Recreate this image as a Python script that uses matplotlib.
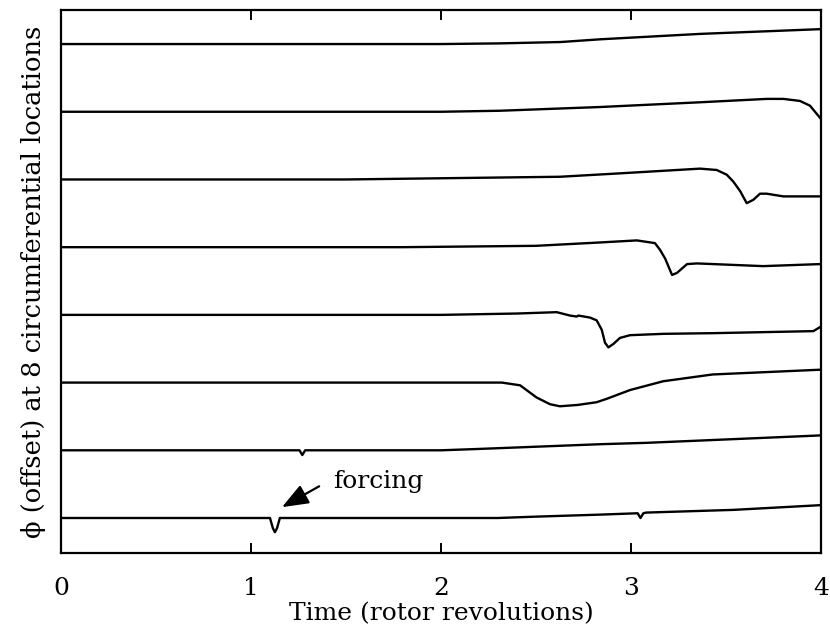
import matplotlib
matplotlib.use("Agg")
import matplotlib.pyplot as plt

plt.rcParams['font.family'] = ['DejaVu Serif']

# Each trace: time points (rotor revolutions) and deviation from its own baseline (offset units)
t1 = [0.0, 1.10, 1.115, 1.126, 1.137, 1.152, 2.3, 2.5, 2.84, 3.035, 3.05, 3.065, 3.08, 3.54, 4.0]
d1 = [0.0, 0.0, -0.15, -0.21, -0.15, 0.0, 0.0, 0.02, 0.05, 0.07, 0.0, 0.07, 0.08, 0.12, 0.19]

t2 = [0.0, 1.255, 1.27, 1.285, 2.0, 2.2, 2.84, 3.08, 3.5, 4.0]
d2 = [0.0, 0.0, -0.07, 0.0, 0.0, 0.02, 0.09, 0.11, 0.16, 0.22]

t3 = [0.0, 2.32, 2.416, 2.503, 2.574, 2.626, 2.72, 2.819, 2.872, 2.995, 3.17, 3.43, 3.995]
d3 = [0.0, 0.0, -0.04, -0.22, -0.32, -0.35, -0.33, -0.29, -0.24, -0.11, 0.02, 0.12, 0.19]

t4 = [0.0, 2.0, 2.4, 2.609, 2.679, 2.714, 2.723, 2.784, 2.819, 2.846, 2.863, 2.881,
      2.907, 2.942, 2.995, 3.17, 3.433, 3.96, 3.995]
d4 = [0.0, 0.0, 0.02, 0.04, -0.01, -0.025, -0.01, -0.04, -0.08, -0.22, -0.41, -0.48,
      -0.43, -0.34, -0.30, -0.28, -0.27, -0.24, -0.18]

t5 = [0.0, 1.8, 2.5, 2.84, 3.03, 3.126, 3.153, 3.18, 3.216, 3.242, 3.295, 3.347, 3.695, 3.995]
d5 = [0.0, 0.0, 0.02, 0.07, 0.10, 0.06, -0.04, -0.17, -0.41, -0.38, -0.25, -0.24, -0.28, -0.25]

t6 = [0.0, 1.5, 2.626, 2.94, 3.363, 3.451, 3.504, 3.538, 3.574, 3.609, 3.644, 3.679,
      3.714, 3.802, 3.995]
d6 = [0.0, 0.0, 0.04, 0.09, 0.16, 0.14, 0.07, -0.03, -0.17, -0.35, -0.30, -0.21,
      -0.21, -0.25, -0.25]

t7 = [0.0, 2.0, 2.31, 2.837, 3.363, 3.714, 3.802, 3.889, 3.942, 3.995]
d7 = [0.0, 0.0, 0.015, 0.07, 0.14, 0.19, 0.19, 0.16, 0.09, -0.09]

t8 = [0.0, 2.0, 2.31, 2.63, 2.837, 3.363, 3.995]
d8 = [0.0, 0.0, 0.01, 0.03, 0.07, 0.15, 0.22]

times = [t1, t2, t3, t4, t5, t6, t7, t8]
devs = [d1, d2, d3, d4, d5, d6, d7, d8]
offsets = [0, 1, 2, 3, 4, 5, 6, 7]

x_ticks = [0, 1, 2, 3, 4]
x_ticklabels = ["0", "1", "2", "3", "4"]

FS = 18

fig = plt.figure(figsize=(8.3, 6.36), dpi=100)
ax = fig.add_axes([61 / 830, (636 - 553) / 636, 760 / 830, 543 / 636])

for t, d, off in zip(times, devs, offsets):
    ax.plot(t, [v + off for v in d], color='black', lw=1.7, solid_joinstyle='round')

ax.set_xlim(0, 4)
ax.set_ylim(-0.517, 7.503)
ax.set_xticks(x_ticks)
ax.set_xticklabels(x_ticklabels)
ax.set_yticks([])
ax.tick_params(axis='x', direction='in', length=7, width=1.4, top=True,
               labelsize=FS, pad=17)
for s in ax.spines.values():
    s.set_linewidth(1.6)

ax.set_xlabel("Time (rotor revolutions)", fontsize=FS, labelpad=2)
ax.set_ylabel("ϕ (offset) at 8 circumferential locations", fontsize=18.5, labelpad=11)

ax.annotate("forcing", xy=(1.163, 0.16), xytext=(1.43, 0.44),
            fontsize=FS, va='baseline', ha='left',
            arrowprops=dict(arrowstyle='-|>,head_length=0.9,head_width=0.35',
                            color='black', lw=1.6, shrinkA=0, shrinkB=0,
                            relpos=(-0.15, 0.3)))

fig.savefig("out.png", dpi=100)
